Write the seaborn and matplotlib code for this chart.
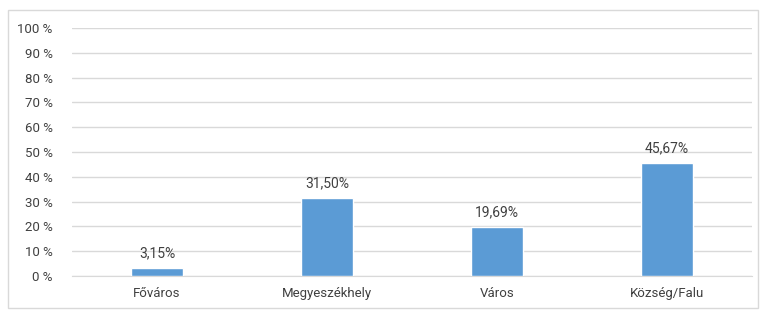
import seaborn as sns
import matplotlib.pyplot as plt
from matplotlib.patches import Rectangle
import pandas as pd

categories = ['Főváros', 'Megyeszékhely', 'Város', 'Község/Falu']
values = [3.15, 31.50, 19.69, 45.67]
labels = ['3,15%', '31,50%', '19,69%', '45,67%']
yticks = list(range(0, 101, 10))

sns.set_style('white')
plt.rcParams['font.family'] = ['Roboto', 'DejaVu Sans']

fig = plt.figure(figsize=(7.61, 3.10), dpi=100)
ax = fig.add_axes([0.0946, 0.1097, 0.8934, 0.80])
fig.patches.append(Rectangle((0.011, 0.006), 0.985, 0.962, transform=fig.transFigure,
                             fill=False, edgecolor='#d9d9d9', linewidth=1))

df = pd.DataFrame({'cat': categories, 'val': values})
sns.barplot(data=df, x='cat', y='val', color='#5b9bd5', width=0.31, saturation=1, ax=ax, zorder=3)

ax.set_ylim(0, 100)
ax.set_xlim(-0.5, 3.5)
ax.set_yticks(yticks)
ax.set_yticklabels([f'{t} %' for t in yticks])
ax.yaxis.grid(True, color='#d9d9d9', linewidth=1, zorder=0)
ax.set_axisbelow(True)
for s in ax.spines.values():
    s.set_visible(False)
ax.spines['bottom'].set_visible(True)
ax.spines['bottom'].set_color('#d9d9d9')
ax.tick_params(axis='both', length=0, labelsize=9.5, colors='#404040')
ax.tick_params(axis='y', pad=14)
ax.tick_params(axis='x', pad=8)
ax.set_xlabel('')
ax.set_ylabel('')

for i, (v, lab) in enumerate(zip(values, labels)):
    ax.text(i, v + 3, lab, ha='center', va='bottom', fontsize=10, color='#404040')

fig.savefig('out.png', dpi=100)
